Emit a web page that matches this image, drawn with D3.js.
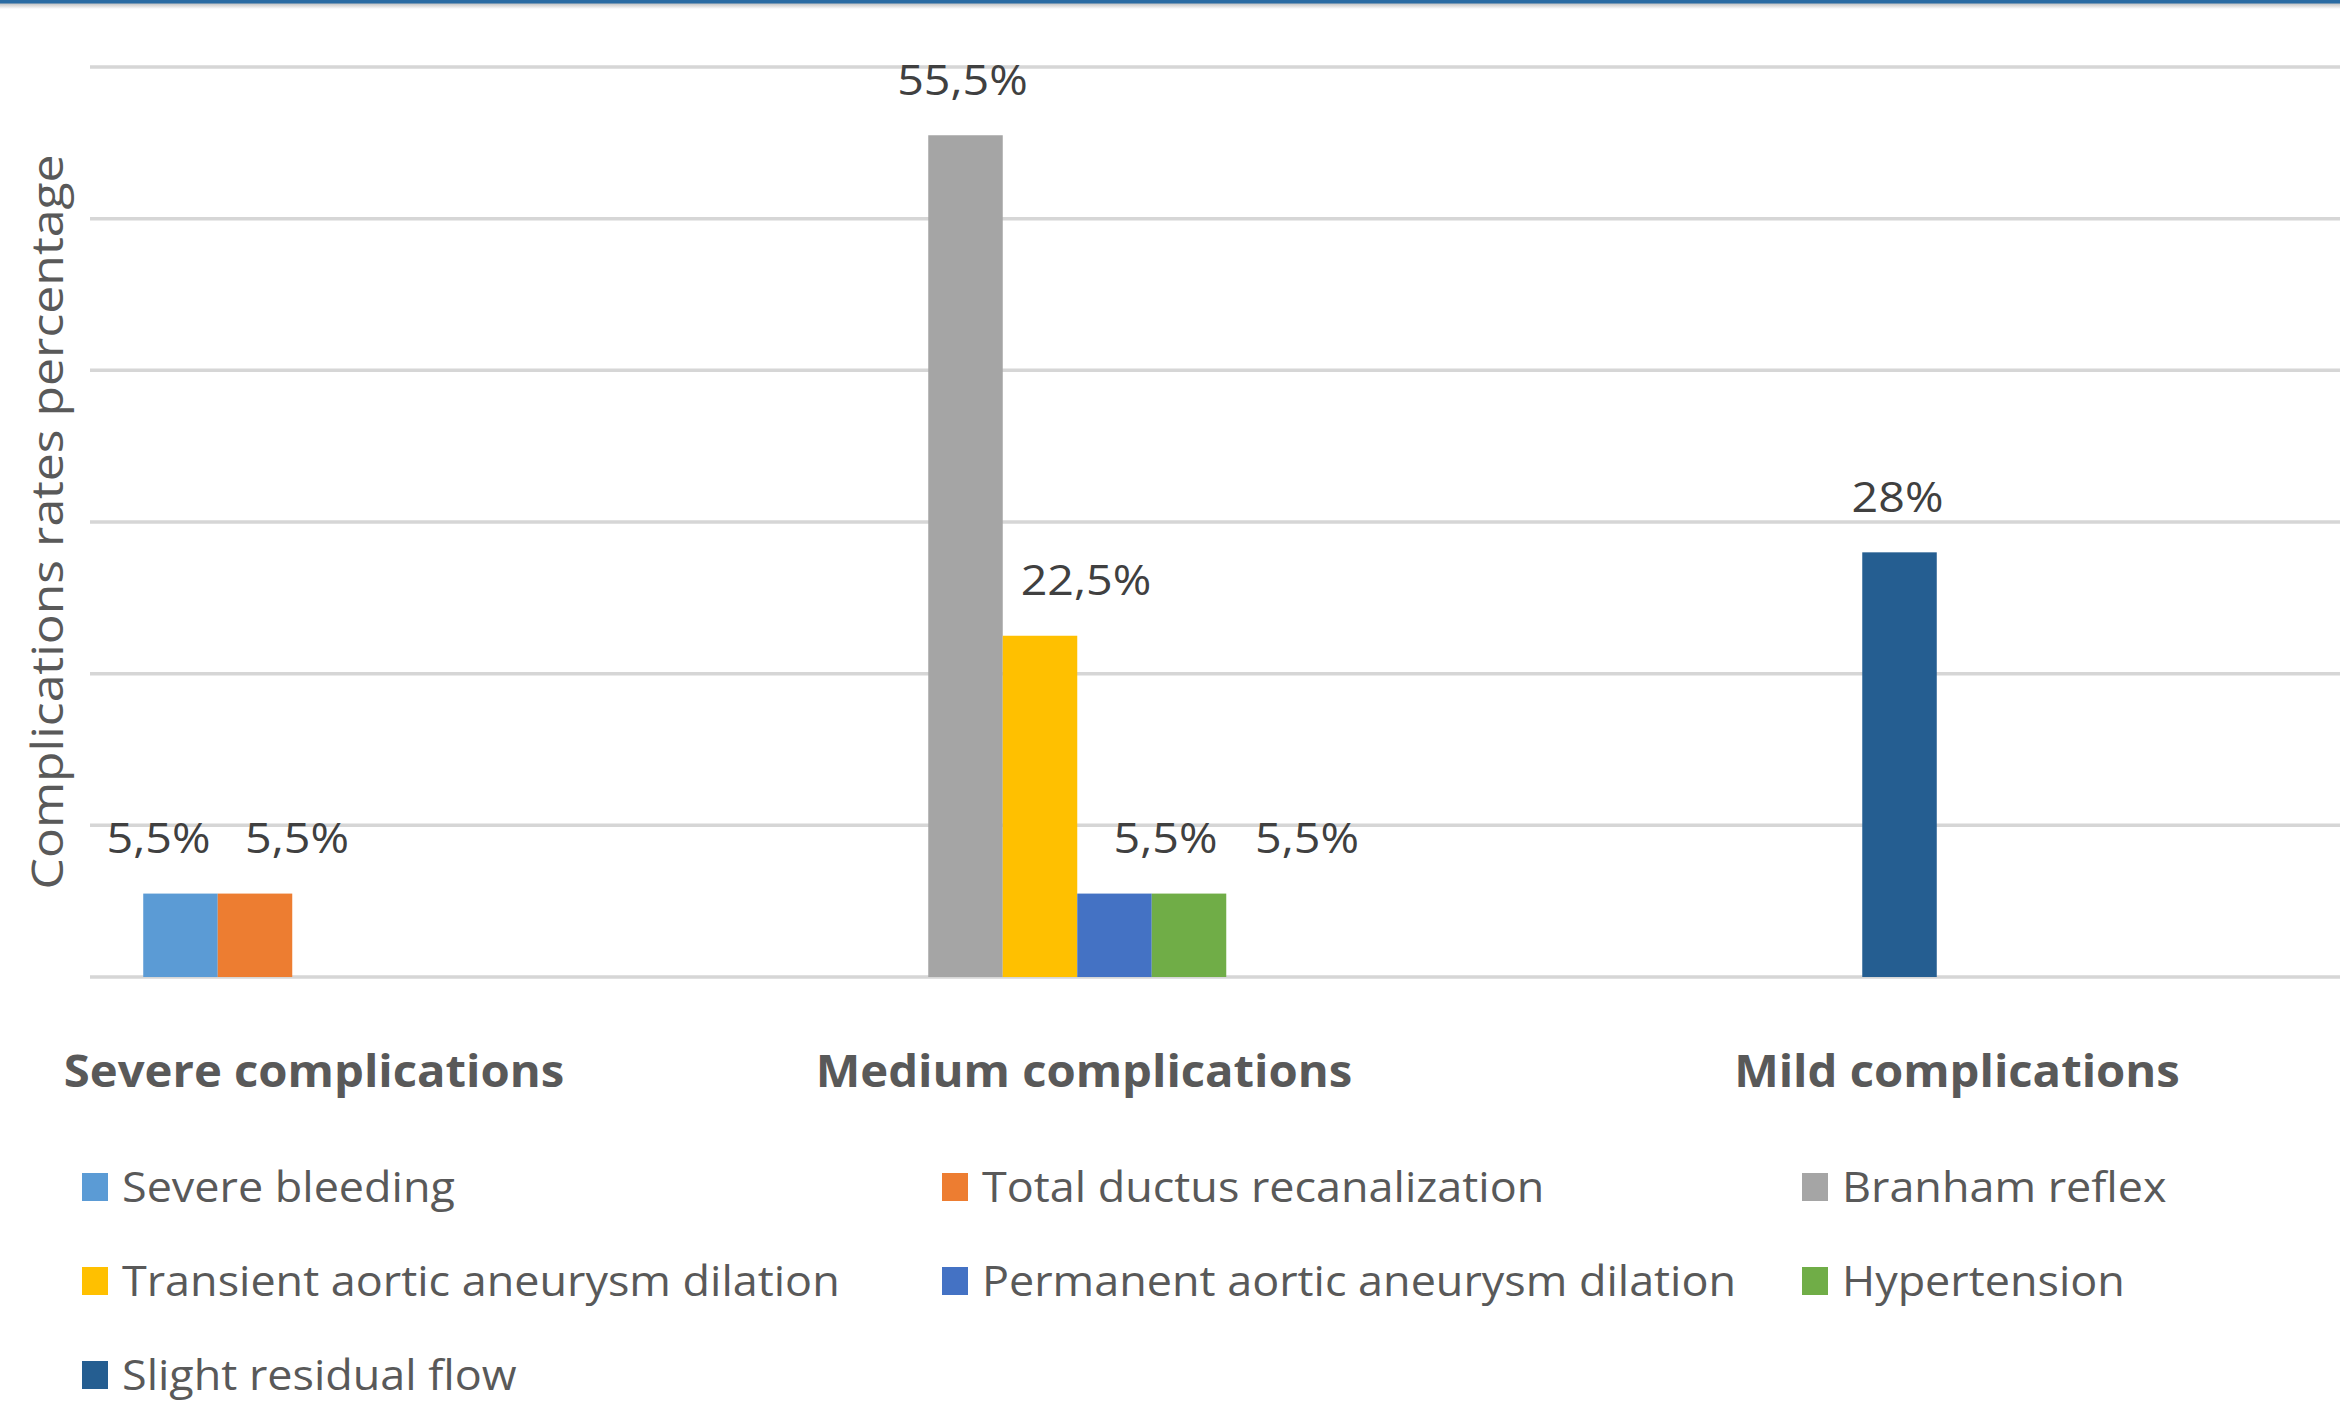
<!DOCTYPE html>
<html>
<head>
<meta charset="utf-8">
<script src="https://cdn.jsdelivr.net/npm/d3@7"></script>
<style>
  html, body { margin: 0; padding: 0; background: #ffffff; }
  svg { display: block; }
</style>
</head>
<body>
<svg id="chart" width="2340" height="1407"></svg>
<script>
// ---- data ----
const categories = ["Severe complications", "Medium complications", "Mild complications"];
const seriesNames = [
  "Severe bleeding",
  "Total ductus recanalization",
  "Branham reflex",
  "Transient aortic aneurysm dilation",
  "Permanent aortic aneurysm dilation",
  "Hypertension",
  "Slight residual flow"
];
// one value per series, for each category (null = no bar)
const severeValues = [5.5, 5.5, null, null, null, null, null];
const mediumValues = [null, null, 55.5, 22.5, 5.5, 5.5, null];
const mildValues   = [null, null, null, null, null, null, 28];
const yTicks = [0, 10, 20, 30, 40, 50, 60];
const yTitle = "Complications rates percentage";

// ---- style / layout ----
const seriesColors = ["#5b9bd5", "#ed7d31", "#a5a5a5", "#ffc000", "#4472c4", "#70ad47", "#255e91"];
const labelNudge = [-22, 42, -3, 46, 51, 118, -2];   // horizontal shift of each value label
const catLabelX = [314, 1084, 1957];                 // centres of category captions
const FONT = "'Open Sans', 'Noto Sans', sans-serif";

const svg = d3.select("#chart");

// header rule with a soft shadow beneath it
const defs = svg.append("defs");
const grad = defs.append("linearGradient").attr("id", "shade").attr("x1", 0).attr("y1", 0).attr("x2", 0).attr("y2", 1);
grad.append("stop").attr("offset", "0%").attr("stop-color", "#bdbdbd");
grad.append("stop").attr("offset", "100%").attr("stop-color", "#ffffff");
svg.append("rect").attr("x", 0).attr("y", 3).attr("width", 2340).attr("height", 6).attr("fill", "url(#shade)");
svg.append("rect").attr("x", 0).attr("y", 0).attr("width", 2340).attr("height", 3.5).attr("fill", "#2b6ca3");

// ---- scales ----
const y = d3.scaleLinear().domain([0, 60]).range([977, 67]);
const x = d3.scaleBand().domain(categories).range([86, 1994]).paddingInner(0).paddingOuter(0);
const gap = x.bandwidth() * 0.09;
const xs = d3.scaleBand().domain(d3.range(seriesNames.length)).range([gap, x.bandwidth() - gap]).padding(0);

// ---- gridlines ----
svg.append("g")
  .selectAll("line")
  .data(yTicks)
  .join("line")
  .attr("x1", 90).attr("x2", 2340)
  .attr("y1", d => y(d)).attr("y2", d => y(d))
  .attr("stroke", "#d6d6d6")
  .attr("stroke-width", 3.5);

// ---- bars ----
const rows = [severeValues, mediumValues, mildValues];
const bars = [];
rows.forEach((vals, ci) => {
  vals.forEach((v, si) => {
    if (v !== null) bars.push({ cat: categories[ci], s: si, v });
  });
});

svg.append("g")
  .selectAll("rect")
  .data(bars)
  .join("rect")
  .attr("x", d => x(d.cat) + xs(d.s))
  .attr("y", d => y(d.v))
  .attr("width", xs.bandwidth())
  .attr("height", d => y(0) - y(d.v))
  .attr("fill", d => seriesColors[d.s]);

// ---- value labels (decimal comma) ----
const locale = d3.formatLocale({ decimal: ",", thousands: ".", grouping: [3], currency: ["", "%"] });
const fmt = locale.format(".1~f");

svg.append("g")
  .selectAll("g")
  .data(bars)
  .join("g")
  .attr("transform", d => `translate(${x(d.cat) + xs(d.s) + xs.bandwidth() / 2 + labelNudge[d.s]},${y(d.v) - 55}) scale(1.11,1)`)
  .append("text")
  .attr("dy", "0.35em")
  .attr("text-anchor", "middle")
  .attr("font-family", FONT)
  .attr("font-size", 42)
  .attr("fill", "#404040")
  .text(d => fmt(d.v) + "%");

// ---- category captions ----
svg.append("g")
  .selectAll("g")
  .data(categories)
  .join("g")
  .attr("transform", (d, i) => `translate(${catLabelX[i]},1071) scale(1.05,1)`)
  .append("text")
  .attr("dy", "0.35em")
  .attr("text-anchor", "middle")
  .attr("font-family", FONT)
  .attr("font-weight", 700)
  .attr("font-size", 45)
  .attr("fill", "#595959")
  .text(d => d);

// ---- y-axis title ----
svg.append("text")
  .attr("transform", "translate(48,522) rotate(-90) scale(1.16,1)")
  .attr("dy", "0.35em")
  .attr("text-anchor", "middle")
  .attr("font-family", FONT)
  .attr("font-size", 43)
  .attr("fill", "#595959")
  .text(yTitle);

// ---- legend ----
const legend = svg.append("g")
  .selectAll("g")
  .data(seriesNames)
  .join("g")
  .attr("transform", (d, i) => `translate(${82 + (i % 3) * 860},${1187 + Math.floor(i / 3) * 94})`);

legend.append("rect")
  .attr("x", 0).attr("y", -14)
  .attr("width", 26).attr("height", 28)
  .attr("fill", (d, i) => seriesColors[i]);

legend.append("text")
  .attr("transform", "translate(40,0) scale(1.07,1)")
  .attr("dy", "0.35em")
  .attr("font-family", FONT)
  .attr("font-size", 42)
  .attr("fill", "#595959")
  .text(d => d);
</script>
</body>
</html>
